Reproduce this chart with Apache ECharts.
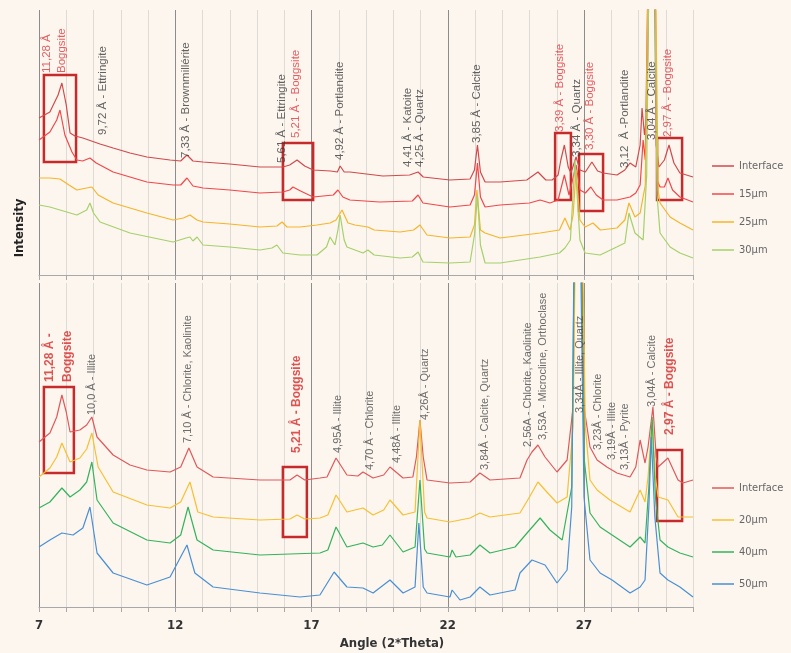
<!DOCTYPE html>
<html>
<head>
<meta charset="utf-8">
<script src="https://cdn.jsdelivr.net/npm/echarts@6/dist/echarts.min.js"></script>
<style>
html, body { margin: 0; padding: 0; background: #fcf6ef; }
#chart { width: 791px; height: 653px; }
</style>
</head>
<body>
<div id="chart"></div>
<script>
// 2*Theta range
const angleMin = 7
const angleMax = 31

// ---- top panel, [angle, intensity] ----
const topInterface = [
    [7.00, 157], [7.40, 163], [7.70, 180], [7.84, 192], [8.00, 170], [8.14, 142], [8.32, 139], [8.61, 137],
    [9.24, 131], [9.72, 127], [10.34, 122], [10.96, 118], [11.81, 115], [12.20, 114], [12.43, 120], [12.65, 114],
    [13.02, 113], [14.00, 111], [15.11, 108], [15.95, 108], [16.20, 110], [16.47, 115], [16.75, 109], [17.06, 105],
    [17.70, 104], [17.95, 103], [18.05, 109], [18.20, 103], [18.41, 103], [19.62, 99], [20.60, 100], [20.91, 103],
    [21.10, 98], [22.08, 95], [22.82, 96], [22.98, 105], [23.09, 130], [23.20, 103], [23.37, 93], [23.92, 93],
    [24.90, 95], [25.31, 103], [25.60, 95], [25.83, 95], [26.05, 100], [26.15, 115], [26.28, 130], [26.42, 108],
    [26.52, 102], [26.71, 118], [26.85, 105], [27.05, 103], [27.29, 113], [27.50, 104], [27.70, 102], [28.21, 100],
    [28.50, 105], [28.69, 112], [28.90, 108], [29.06, 130], [29.13, 167], [29.22, 140], [29.30, 160], [29.45, 400],
    [29.55, 400], [29.65, 130], [29.75, 108], [29.95, 115], [30.12, 130], [30.30, 112], [30.52, 102], [31.00, 98]
]
const top15 = [
    [7.00, 135], [7.40, 143], [7.65, 155], [7.77, 165], [7.95, 140], [8.21, 123], [8.39, 115], [8.60, 114],
    [8.87, 117], [9.10, 112], [9.72, 103], [10.96, 93], [11.92, 90], [12.20, 90], [12.43, 97], [12.65, 89],
    [13.02, 87], [14.00, 85], [15.11, 82], [15.95, 83], [16.20, 85], [16.32, 88], [16.60, 84], [17.06, 78],
    [17.80, 80], [17.97, 85], [18.15, 78], [18.41, 75], [19.50, 73], [20.70, 74], [20.91, 80], [21.09, 72],
    [22.08, 68], [22.82, 70], [22.98, 80], [23.09, 112], [23.20, 78], [23.37, 68], [23.92, 70], [25.00, 72],
    [25.39, 75], [25.75, 72], [26.05, 75], [26.28, 100], [26.45, 80], [26.52, 78], [26.71, 110], [26.85, 85],
    [27.05, 82], [27.25, 88], [27.45, 80], [27.70, 75], [28.21, 75], [28.69, 78], [28.90, 82], [29.06, 90],
    [29.17, 135], [29.25, 115], [29.40, 400], [29.58, 400], [29.68, 95], [29.79, 88], [29.95, 88], [30.08, 97],
    [30.25, 85], [30.52, 78], [31.00, 73]
]
const top25 = [
    [7.00, 97], [7.40, 97], [7.77, 96], [8.10, 90], [8.39, 85], [8.75, 87], [8.94, 88], [9.17, 80],
    [9.72, 72], [10.96, 62], [11.92, 55], [12.30, 57], [12.54, 60], [12.80, 55], [13.02, 53], [14.00, 51],
    [15.11, 48], [15.73, 49], [15.92, 53], [16.10, 48], [16.58, 48], [17.20, 50], [17.68, 52], [17.90, 55],
    [18.12, 65], [18.34, 52], [18.60, 50], [19.07, 48], [19.30, 45], [20.25, 43], [20.75, 45], [20.98, 50],
    [21.24, 40], [22.08, 37], [22.82, 38], [22.98, 50], [23.07, 85], [23.20, 45], [23.37, 42], [23.92, 37],
    [25.39, 42], [26.10, 45], [26.30, 57], [26.49, 45], [26.60, 60], [26.71, 105], [26.85, 55], [27.04, 48],
    [27.33, 52], [27.60, 45], [28.21, 47], [28.50, 55], [28.65, 72], [28.87, 58], [29.06, 62], [29.25, 90],
    [29.40, 400], [29.58, 400], [29.72, 85], [29.79, 72], [30.16, 58], [30.52, 52], [31.00, 45]
]
const top30 = [
    [7.00, 70], [7.40, 68], [7.77, 65], [8.39, 60], [8.75, 65], [8.87, 72], [9.00, 62], [9.24, 53],
    [10.34, 42], [11.92, 33], [12.40, 37], [12.54, 38], [12.65, 34], [12.80, 38], [13.02, 30], [14.00, 28],
    [15.11, 25], [15.55, 27], [15.73, 30], [15.95, 22], [16.58, 20], [17.20, 20], [17.55, 28], [17.68, 38],
    [17.86, 30], [17.97, 45], [18.05, 60], [18.20, 35], [18.30, 28], [18.89, 22], [19.07, 25], [19.30, 20],
    [20.25, 17], [20.70, 18], [20.91, 23], [21.09, 13], [22.08, 12], [22.82, 13], [22.98, 40], [23.09, 80],
    [23.20, 30], [23.37, 12], [23.92, 12], [25.39, 18], [26.10, 22], [26.30, 27], [26.50, 35], [26.67, 115],
    [26.85, 35], [27.04, 22], [27.59, 20], [28.20, 28], [28.50, 32], [28.65, 62], [28.87, 42], [29.17, 35],
    [29.30, 100], [29.42, 400], [29.56, 400], [29.68, 80], [29.79, 42], [30.16, 28], [30.52, 22], [31.00, 17]
]

// ---- bottom panel, [angle, intensity] ----
const botInterface = [
    [7.00, 165], [7.40, 174], [7.65, 190], [7.84, 212], [8.00, 195], [8.14, 175], [8.50, 177], [8.75, 182],
    [8.94, 190], [9.13, 170], [9.72, 152], [10.34, 142], [10.96, 137], [11.81, 135], [12.20, 140], [12.50, 159],
    [12.80, 140], [13.39, 130], [15.11, 127], [16.21, 127], [16.47, 132], [16.75, 127], [17.31, 129], [17.57, 130],
    [17.90, 149], [18.30, 132], [18.70, 131], [18.89, 135], [19.26, 129], [19.65, 132], [19.88, 140], [20.36, 129],
    [20.72, 130], [20.85, 150], [20.98, 187], [21.10, 150], [21.24, 127], [22.08, 124], [22.82, 125], [23.18, 134],
    [23.55, 127], [24.65, 129], [24.91, 147], [25.09, 155], [25.31, 162], [25.57, 150], [26.01, 135], [26.38, 147],
    [26.60, 200], [26.72, 500], [26.85, 500], [27.00, 200], [27.22, 160], [27.48, 147], [27.84, 140], [28.21, 134],
    [28.69, 130], [28.90, 140], [29.06, 167], [29.24, 144], [29.35, 160], [29.53, 200], [29.65, 150], [29.72, 140],
    [30.08, 149], [30.45, 127], [30.63, 124], [31.00, 127]
]
const bot20 = [
    [7.00, 130], [7.40, 139], [7.65, 150], [7.84, 164], [8.14, 145], [8.50, 149], [8.75, 158], [8.94, 174],
    [9.17, 140], [9.72, 115], [10.96, 102], [11.81, 99], [12.20, 105], [12.54, 125], [12.83, 95], [13.39, 90],
    [15.11, 87], [16.21, 88], [16.47, 92], [16.75, 88], [17.31, 89], [17.60, 92], [17.90, 112], [18.30, 95],
    [18.89, 99], [19.26, 92], [19.65, 97], [19.88, 107], [20.36, 92], [20.80, 95], [20.98, 187], [21.15, 95],
    [21.24, 89], [22.08, 85], [22.82, 89], [23.18, 94], [23.55, 90], [24.65, 94], [25.00, 110], [25.31, 125],
    [25.57, 117], [26.01, 104], [26.38, 110], [26.60, 180], [26.74, 500], [26.87, 500], [27.05, 180], [27.22, 127],
    [27.48, 117], [27.95, 107], [28.69, 95], [29.06, 117], [29.24, 105], [29.35, 130], [29.50, 187], [29.62, 130],
    [29.72, 110], [30.08, 107], [30.45, 90], [31.00, 90]
]
const bot40 = [
    [7.00, 99], [7.40, 105], [7.84, 119], [8.14, 110], [8.50, 117], [8.75, 125], [8.94, 145], [9.13, 107],
    [9.72, 84], [10.96, 67], [11.81, 64], [12.20, 72], [12.47, 100], [12.80, 67], [13.39, 57], [15.11, 52],
    [17.31, 54], [17.60, 57], [17.90, 80], [18.30, 60], [18.89, 64], [19.26, 60], [19.60, 62], [19.88, 72],
    [20.36, 55], [20.80, 60], [20.98, 127], [21.15, 58], [21.24, 54], [22.08, 50], [22.16, 57], [22.30, 50],
    [22.82, 52], [23.18, 62], [23.55, 54], [24.47, 60], [24.91, 74], [25.39, 89], [25.75, 77], [26.20, 67],
    [26.55, 120], [26.70, 500], [26.83, 500], [27.00, 150], [27.22, 94], [27.59, 80], [28.14, 70], [28.69, 60],
    [29.06, 70], [29.24, 64], [29.38, 120], [29.50, 190], [29.62, 110], [29.79, 67], [30.08, 60], [30.52, 54],
    [31.00, 50]
]
const bot50 = [
    [7.00, 60], [7.40, 67], [7.84, 74], [8.25, 72], [8.61, 79], [8.87, 100], [9.13, 54], [9.72, 34],
    [10.96, 22], [11.81, 30], [12.43, 62], [12.72, 34], [13.39, 20], [15.11, 14], [16.58, 10], [17.31, 12],
    [17.83, 35], [18.30, 20], [18.89, 19], [19.26, 14], [19.88, 27], [20.36, 14], [20.80, 20], [20.94, 84],
    [21.10, 20], [21.24, 14], [22.08, 10], [22.16, 17], [22.45, 7], [22.82, 10], [23.18, 20], [23.55, 12],
    [24.47, 17], [24.65, 34], [25.09, 47], [25.57, 42], [26.01, 24], [26.38, 37], [26.55, 100], [26.68, 500],
    [26.80, 500], [27.00, 110], [27.22, 47], [27.59, 34], [28.03, 27], [28.69, 14], [29.06, 20], [29.24, 27],
    [29.38, 100], [29.47, 170], [29.60, 90], [29.79, 34], [30.08, 27], [30.52, 20], [31.00, 10]
]

// ---- peak labels, [angle, intensity at text start, text] ----
const topPeakLabels = [
    [9.35, 140, '9,72 Å - Ettringite'],
    [12.39, 117, '7,33 Å - Brownmillérite'],
    [15.92, 112, '5,61 Å - Ettringite'],
    [18.05, 115, '4,92 Å - Portlandite'],
    [20.54, 108, '4,41 Å - Katoite'],
    [20.98, 108, '4,25 Å - Quartz'],
    [23.07, 132, '3,85 Å - Calcite'],
    [26.74, 118, '3,34 Å - Quartz'],
    [28.50, 107, '3,12  Å -Portlandite'],
    [29.50, 135, '3,04 Å - Calcite']
]
const topBoggsiteLabels = [
    [7.29, 202, '11,28 Å'],
    [7.84, 202, 'Boggsite'],
    [16.43, 137, '5,21 Å - Boggsite'],
    [26.12, 143, '3,39 Å - Boggsite'],
    [27.22, 125, '3,30 Å - Boggsite'],
    [30.08, 138, '2,97 Å - Boggsite']
]
const botPeakLabels = [
    [8.94, 192, '10,0 Å - Illite'],
    [12.47, 164, '7,10 Å - Chlorite, Kaolinite'],
    [17.97, 154, '4,95Å - Illite'],
    [19.15, 137, '4,70 Å - Chlorite'],
    [20.14, 144, '4,48Å - Illite'],
    [21.17, 187, '4,26Å - Quartz'],
    [23.37, 137, '3,84Å - Calcite, Quartz'],
    [24.94, 160, '2,56A - Chlorite, Kaolinite'],
    [25.50, 167, '3,53A - Microcline, Orthoclase'],
    [26.85, 194, '3,34Å - Illite, Quartz'],
    [27.51, 157, '3,23Å - Chlorite'],
    [28.03, 147, '3,19Å - Illite'],
    [28.50, 137, '3,13Å - Pyrite'],
    [29.50, 200, '3,04Å - Calcite']
]
const botBoggsiteLabels = [
    [7.40, 225, '11,28 Å -'],
    [8.06, 225, 'Boggsite'],
    [16.47, 154, '5,21 Å - Boggsite'],
    [30.16, 172, '2,97 Å - Boggsite']
]

// ---- highlight boxes, [angle1, intensity1, angle2, intensity2] ----
const topBoxes = [
    [7.18, 200, 8.36, 113],
    [15.95, 132, 17.06, 75],
    [25.94, 142, 26.52, 75],
    [26.82, 121, 27.70, 64],
    [29.68, 137, 30.60, 75]
]
const botBoxes = [
    [7.18, 220, 8.28, 134],
    [15.95, 140, 16.83, 70],
    [29.68, 157, 30.60, 86]
]

const topNames = ['Interface', '15µm', '25µm', '30µm']
const topColors = ['#d04a4c', '#f2474a', '#f5b52a', '#a6d06a']
const botNames = ['Interface', '20µm', '40µm', '50µm']
const botColors = ['#e0585a', '#f6c032', '#35b35c', '#4a8fd4']

const fontFamily = 'Liberation Sans, Arial, sans-serif'

function lineSeries (name, data, color, idx) {
    return {
        name: name,
        type: 'line',
        xAxisIndex: idx,
        yAxisIndex: idx,
        data: data,
        symbol: 'none',
        clip: true,
        lineStyle: { color: color, width: 1.2 },
        itemStyle: { color: color },
        silent: true
    }
}

function labelSeries (items, idx, color, bold, size, boxes) {
    let s = {
        type: 'scatter',
        xAxisIndex: idx,
        yAxisIndex: idx,
        symbolSize: 0,
        silent: true,
        z: 5,
        data: items.map(d => ({ value: [d[0], d[1]], name: d[2] })),
        label: {
            show: true,
            formatter: '{b}',
            position: 'inside',
            rotate: 90,
            align: 'left',
            verticalAlign: 'middle',
            color: color,
            fontSize: size,
            fontWeight: bold ? 'bold' : 'normal',
            fontFamily: fontFamily
        }
    }
    if (boxes) {
        s.markArea = {
            silent: true,
            itemStyle: { color: 'rgba(0,0,0,0)', borderColor: '#c62a2a', borderWidth: 2.5 },
            data: boxes.map(b => [{ coord: [b[0], b[1]] }, { coord: [b[2], b[3]] }])
        }
    }
    return s
}

function xAxis (idx, showLabel) {
    return {
        type: 'value',
        gridIndex: idx,
        min: angleMin,
        max: angleMax,
        interval: 1,
        axisLine: { show: true, lineStyle: { color: '#a8a8a8' } },
        axisTick: { show: true, length: 5, lineStyle: { color: '#a8a8a8' } },
        axisLabel: {
            show: showLabel,
            formatter: v => ((v - angleMin) % 5 === 0 ? String(v) : ''),
            color: '#333',
            fontSize: 13,
            fontWeight: 'bold',
            fontFamily: 'DejaVu Sans Condensed, sans-serif',
            margin: 12
        },
        splitLine: {
            show: true,
            lineStyle: { color: ['#8c8c8c', '#dedad5', '#dedad5', '#dedad5', '#dedad5'], width: 1 }
        }
    }
}

function legend (names, colors, top, gap) {
    return {
        orient: 'vertical',
        left: 712,
        top: top,
        padding: 0,
        icon: 'rect',
        itemWidth: 22,
        itemHeight: 1.5,
        itemGap: gap,
        textStyle: { color: '#666', fontSize: 11, lineHeight: 14, fontFamily: 'DejaVu Sans Condensed, sans-serif' },
        data: names.map((n, i) => ({ name: n, icon: 'rect', itemStyle: { color: colors[i] } }))
    }
}

let chart = echarts.init(document.getElementById('chart'))

let series = []
topNames.forEach((n, i) => series.push(lineSeries(n, [topInterface, top15, top25, top30][i], topColors[i], 0)))
botNames.forEach((n, i) => series.push(lineSeries(n, [botInterface, bot20, bot40, bot50][i], botColors[i], 1)))
series.push(labelSeries(topPeakLabels, 0, '#3c3c3c', false, 11.5, null))
series.push(labelSeries(topBoggsiteLabels, 0, '#dc3a3e', false, 11.5, topBoxes))
series.push(labelSeries(botPeakLabels, 1, '#4a4a4a', false, 11, null))
series.push(labelSeries(botBoggsiteLabels, 1, '#d42a2a', true, 12, botBoxes))

let option = {
    backgroundColor: '#fcf6ef',
    animation: false,
    grid: [
        { left: 39, width: 654, top: 10, height: 265 },
        { left: 39, width: 654, top: 283, height: 324 }
    ],
    xAxis: [xAxis(0, false), xAxis(1, true)],
    yAxis: [
        { type: 'value', gridIndex: 0, min: 0, max: 265, show: false },
        { type: 'value', gridIndex: 1, min: 0, max: 324, show: false }
    ],
    legend: [
        legend(topNames, topColors, 159, 14),
        legend(botNames, botColors, 481, 18)
    ],
    graphic: [
        {
            type: 'text', x: 20, y: 228, rotation: Math.PI / 2,
            style: { text: 'Intensity', fill: '#222', font: 'bold 13px DejaVu Sans Condensed, sans-serif', align: 'center', verticalAlign: 'middle' }
        },
        {
            type: 'text', x: 392, y: 644,
            style: { text: 'Angle (2*Theta)', fill: '#333', font: 'bold 13px DejaVu Sans Condensed, sans-serif', align: 'center', verticalAlign: 'middle' }
        }
    ],
    series: series
}
chart.setOption(option)
</script>
</body>
</html>
